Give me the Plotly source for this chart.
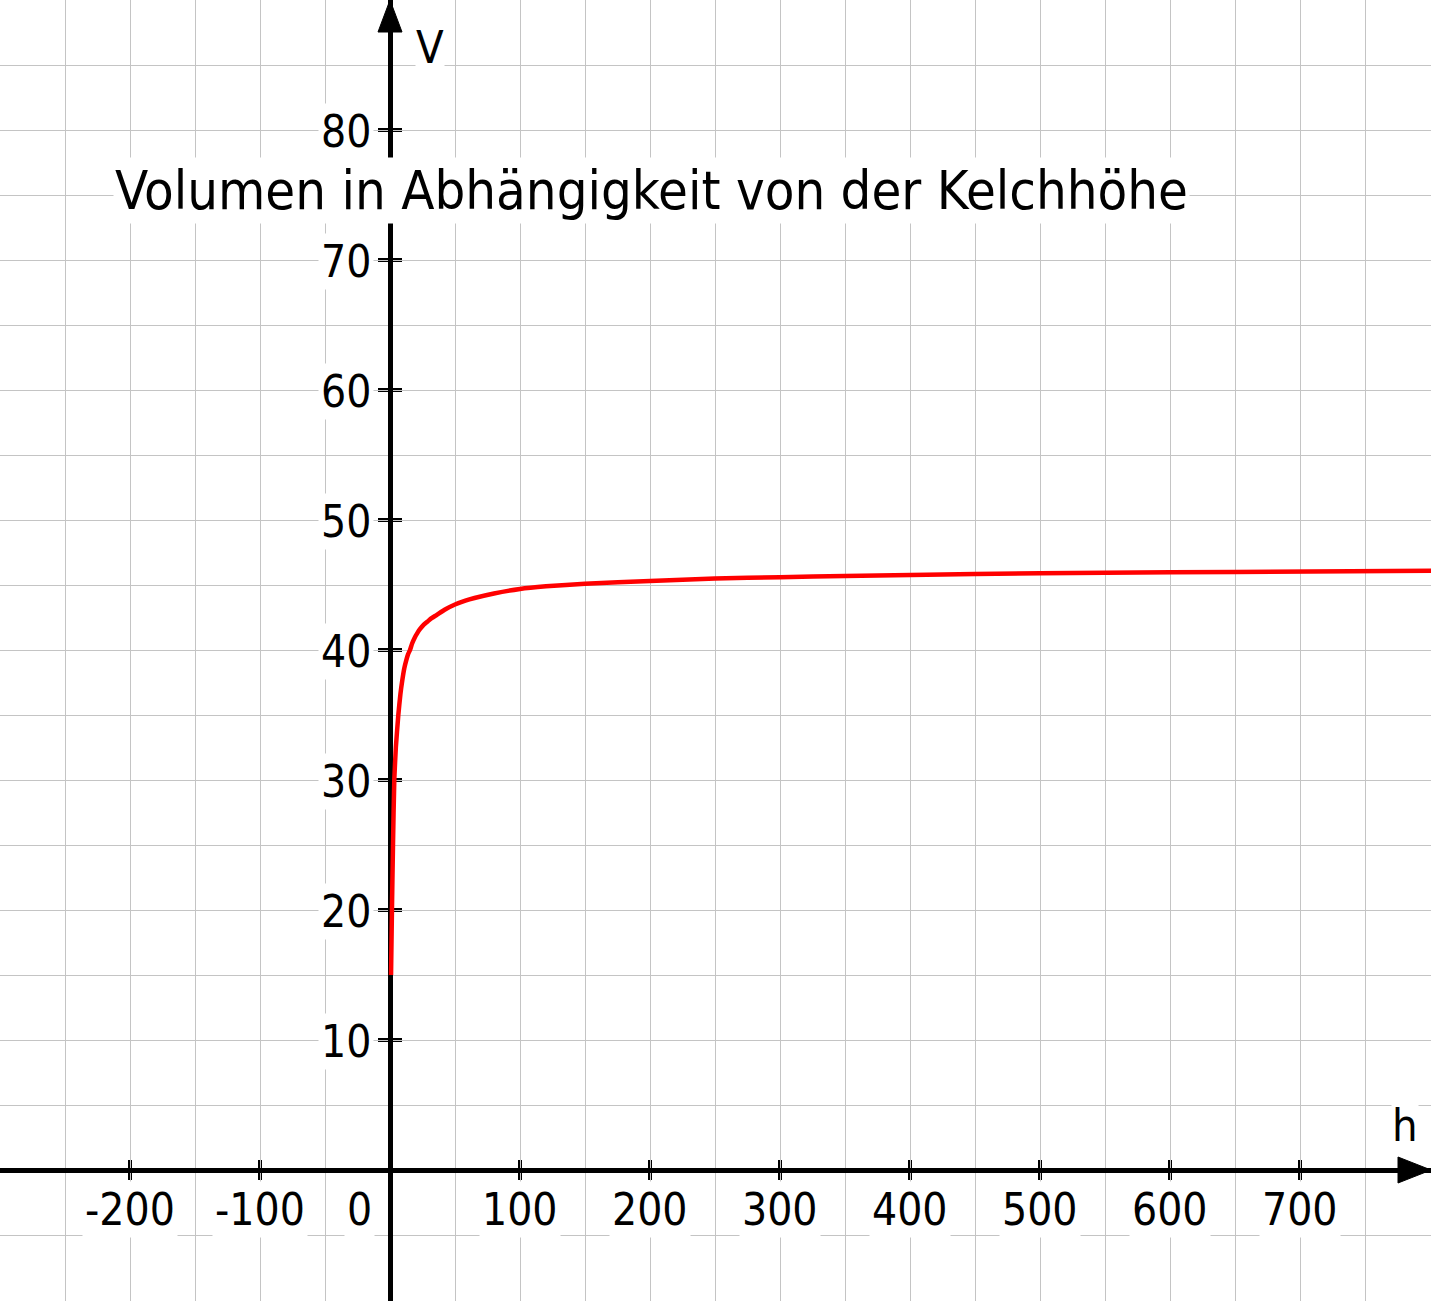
import plotly.graph_objects as go

# ---- data ----
h_vals = [0.8, 1.5, 2.3, 3.3, 4.5, 6.4, 8.0, 9.5, 11, 12.5, 14, 15.4, 17, 19, 21, 23, 26, 29,
          32, 36, 42, 50, 58, 65, 80, 100, 120, 150, 200, 250, 300, 350, 450, 550, 650, 800.8]
v_vals = [15, 20, 25, 30, 32.5, 35, 36.6, 37.7, 38.6, 39.2, 39.7, 40.0, 40.5, 40.95, 41.3, 41.6,
          41.95, 42.2, 42.45, 42.7, 43.1, 43.5, 43.8, 44.0, 44.35, 44.7, 44.9, 45.1, 45.3, 45.5,
          45.6, 45.7, 45.85, 45.95, 46.0, 46.1]
x_ticks = [-200, -100, 100, 200, 300, 400, 500, 600, 700]
y_ticks = [10, 20, 30, 40, 50, 60, 70, 80]
title_text = "Volumen in Abhängigkeit von der Kelchhöhe"
x_label = "h"
y_label = "V"

# ---- layout constants ----
W, H = 1431, 1301
X0, X1 = -300, -300 + W / 1.3
Y0, Y1 = 90 - H / 13, 90
PX_X = 1 / 1.3   # data units per pixel along x
PX_Y = 1 / 13    # data units per pixel along y
FONT = "DejaVu Sans Condensed, DejaVu Sans, Verdana, sans-serif"
GRID = "#c4c4c4"

fig = go.Figure()
fig.add_trace(go.Scatter(x=h_vals, y=v_vals, mode="lines",
                         line=dict(color="#ff0000", width=4.5, shape="spline", smoothing=0.5),
                         hoverinfo="skip", showlegend=False))

shapes = []
# tick marks
for t in x_ticks:
    shapes.append(dict(type="line", xref="x", yref="y", layer="below",
                       x0=t, x1=t, y0=-10 * PX_Y, y1=10 * PX_Y,
                       line=dict(color="black", width=4)))
for t in y_ticks:
    shapes.append(dict(type="line", xref="x", yref="y", layer="below",
                       x0=-12 * PX_X, x1=12 * PX_X, y0=t, y1=t,
                       line=dict(color="black", width=4)))
# arrow heads
shapes.append(dict(type="path", xref="x", yref="y", layer="above",
                   path=f"M {0} {Y1} L {-12*PX_X} {Y1-32*PX_Y} L {12*PX_X} {Y1-32*PX_Y} Z",
                   fillcolor="black", line=dict(color="black", width=1)))
shapes.append(dict(type="path", xref="x", yref="y", layer="above",
                   path=f"M {X1} {0} L {X1-33*PX_X} {13*PX_Y} L {X1-33*PX_X} {-13*PX_Y} Z",
                   fillcolor="black", line=dict(color="black", width=1)))

annotations = []
for t in x_ticks:
    annotations.append(dict(x=t, y=-39 * PX_Y, xref="x", yref="y", text=str(t),
                            showarrow=False, xanchor="center", yanchor="middle",
                            font=dict(family=FONT, size=44, color="black"),
                            bgcolor="white", borderpad=2))
annotations.append(dict(x=-15 * PX_X, y=-39 * PX_Y, xref="x", yref="y", text="0",
                        showarrow=False, xanchor="right", yanchor="middle",
                        font=dict(family=FONT, size=44, color="black"),
                        bgcolor="white", borderpad=2))
for t in y_ticks:
    annotations.append(dict(x=-16 * PX_X, y=t - 1.5 * PX_Y, xref="x", yref="y", text=str(t),
                            showarrow=False, xanchor="right", yanchor="middle",
                            font=dict(family=FONT, size=44, color="black"),
                            bgcolor="white", borderpad=2))
annotations.append(dict(x=40 * PX_X, y=Y1 - 47 * PX_Y, xref="x", yref="y", text=y_label,
                        showarrow=False, xanchor="center", yanchor="middle",
                        font=dict(family=FONT, size=45, color="black"),
                        bgcolor="white", borderpad=0))
annotations.append(dict(x=X1 - 26 * PX_X, y=45 * PX_Y, xref="x", yref="y", text=x_label,
                        showarrow=False, xanchor="center", yanchor="middle",
                        font=dict(family=FONT, size=45, color="black"),
                        bgcolor="white", borderpad=0))
annotations.append(dict(x=X0 + 651 * PX_X, y=Y1 - 190 * PX_Y, xref="x", yref="y",
                        text=title_text, showarrow=False, xanchor="center", yanchor="middle",
                        font=dict(family=FONT, size=54, color="black"),
                        bgcolor="white", borderpad=1))

fig.update_layout(
    width=W, height=H, autosize=False,
    margin=dict(l=0, r=0, t=0, b=0, pad=0),
    paper_bgcolor="white", plot_bgcolor="white",
    showlegend=False,
    shapes=shapes, annotations=annotations,
    xaxis=dict(range=[X0, X1], dtick=50, tick0=0, showgrid=True, gridcolor=GRID, gridwidth=1,
               zeroline=True, zerolinecolor="black", zerolinewidth=4.5,
               showticklabels=False, ticks="", showline=False, fixedrange=True),
    yaxis=dict(range=[Y0, Y1], dtick=5, tick0=0, showgrid=True, gridcolor=GRID, gridwidth=1,
               zeroline=True, zerolinecolor="black", zerolinewidth=4.5,
               showticklabels=False, ticks="", showline=False, fixedrange=True),
)

fig.write_html("out.html", config={"displayModeBar": False},
               post_script="document.body.style.margin='0';document.body.style.overflow='hidden';")
